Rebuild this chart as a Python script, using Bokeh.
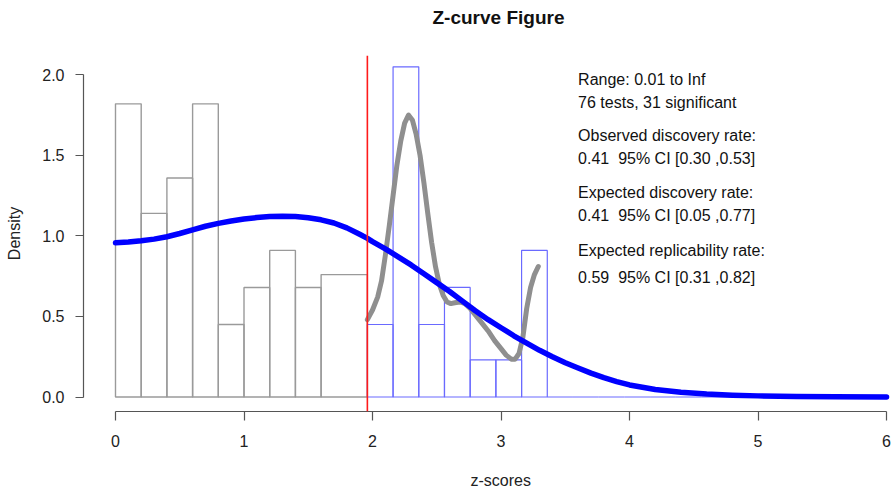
from bokeh.plotting import figure
from bokeh.models import Span, Label, FixedTicker, Range1d, NumeralTickFormatter, Title
from bokeh.embed import file_html
from bokeh.resources import INLINE

FONT = "Liberation Sans"

# Histogram of non-significant z-scores (density scale)
ns_edges = [0.0, 0.2, 0.4, 0.6, 0.8, 1.0, 1.2, 1.4, 1.6, 1.96]
ns_density = [1.82, 1.14, 1.36, 1.82, 0.45, 0.68, 0.91, 0.68, 0.76]

# Histogram of significant z-scores (density scale), empty bins up to the axis end
sig_edges = [1.96, 2.16, 2.36, 2.56, 2.76, 2.96, 3.16, 3.36, 3.56, 3.76, 3.96,
             4.16, 4.36, 4.56, 4.76, 4.96, 5.16, 5.36, 5.56, 5.76, 5.96]
sig_density = [0.45, 2.05, 0.45, 0.68, 0.23, 0.23, 0.91, 0, 0, 0,
               0, 0, 0, 0, 0, 0, 0, 0, 0, 0]

# Fitted z-curve density
fit_z = [0.0, 0.1, 0.2, 0.3, 0.4, 0.5, 0.6, 0.7, 0.8, 0.9, 1.0, 1.1, 1.2, 1.3,
         1.4, 1.5, 1.6, 1.7, 1.8, 1.9, 1.96, 2.0, 2.1, 2.2, 2.3, 2.4, 2.5, 2.6,
         2.7, 2.8, 2.9, 3.0, 3.1, 3.2, 3.3, 3.4, 3.5, 3.6, 3.7, 3.8, 3.9, 4.0,
         4.2, 4.4, 4.6, 4.8, 5.0, 5.3, 5.6, 6.0]
fit_density = [0.957, 0.962, 0.970, 0.980, 0.995, 1.015, 1.038, 1.060, 1.078,
               1.093, 1.105, 1.114, 1.120, 1.122, 1.120, 1.113, 1.100, 1.080,
               1.050, 1.010, 0.985, 0.965, 0.920, 0.870, 0.820, 0.765, 0.710,
               0.655, 0.595, 0.535, 0.480, 0.430, 0.380, 0.335, 0.290, 0.250,
               0.213, 0.180, 0.148, 0.120, 0.096, 0.075, 0.047, 0.029, 0.018,
               0.011, 0.007, 0.003, 0.001, 0.0]

# Kernel density of the significant z-scores
kd_z = [1.96, 2.00, 2.04, 2.07, 2.10, 2.13, 2.16, 2.19, 2.22, 2.25, 2.28, 2.31,
        2.34, 2.37, 2.40, 2.43, 2.46, 2.49, 2.52, 2.55, 2.58, 2.61, 2.64, 2.68,
        2.72, 2.76, 2.80, 2.85, 2.90, 2.95, 3.00, 3.04, 3.08, 3.11, 3.14, 3.17,
        3.20, 3.23, 3.26, 3.29]
kd_density = [0.48, 0.54, 0.62, 0.72, 0.88, 1.06, 1.25, 1.44, 1.59, 1.70, 1.75,
              1.72, 1.63, 1.50, 1.33, 1.14, 0.96, 0.81, 0.70, 0.63, 0.59, 0.58,
              0.585, 0.59, 0.58, 0.55, 0.51, 0.46, 0.41, 0.35, 0.30, 0.26, 0.235,
              0.235, 0.27, 0.37, 0.55, 0.68, 0.76, 0.81]

x_ticks = [0, 1, 2, 3, 4, 5, 6]
y_ticks = [0.0, 0.5, 1.0, 1.5, 2.0]
z_crit = 1.96

NBSP = "\u00a0"
summary_lines = [
    "Range: 0.01 to Inf",
    "76 tests, 31 significant",
    "Observed discovery rate:",
    "0.41" + NBSP + " 95% CI [0.30 ,0.53]",
    "Expected discovery rate:",
    "0.41" + NBSP + " 95% CI [0.05 ,0.77]",
    "Expected replicability rate:",
    "0.59" + NBSP + " 95% CI [0.31 ,0.82]",
]
summary_y = [1.971, 1.830, 1.623, 1.480, 1.271, 1.127, 0.910, 0.744]
summary_x = 3.6

p = figure(width=894, height=491,
           x_range=Range1d(-0.249, 6.062), y_range=Range1d(-0.09, 2.12),
           output_backend="svg", toolbar_location=None,
           min_border_left=83, min_border_right=0,
           min_border_top=55, min_border_bottom=80)
p.outline_line_color = None
p.grid.visible = False
p.background_fill_color = "white"
p.border_fill_color = "white"


def gap(standoff):
    """Blank white panel used to push a title away from the frame."""
    return Title(text=" ", text_font=FONT, text_font_size="10px",
                 text_color="#ffffff", standoff=standoff)


# title, placed from the frame's left edge so it sits over the full plot region
p.add_layout(gap(13), "above")
p.title.text = "Z-curve Figure"
p.title.align = "left"
p.title.offset = 349
p.title.standoff = 4
p.title.text_font = FONT
p.title.text_font_size = "19px"
p.title.text_font_style = "bold"
p.title.text_color = "#111111"

# histograms
p.quad(left=ns_edges[:-1], right=ns_edges[1:], bottom=0, top=ns_density,
       fill_color=None, line_color="#9a9a9a", line_width=1.4)
p.quad(left=sig_edges[:-1], right=sig_edges[1:], bottom=0, top=sig_density,
       fill_color=None, line_color="#6a6aff", line_width=1.2)

# significance threshold
p.add_layout(Span(location=z_crit, dimension="height",
                  line_color="#ff1a1a", line_width=1.6))

# density curves
p.line(kd_z, kd_density, line_color="#8f8f8f", line_width=5,
       line_cap="round", line_join="round")
p.line(fit_z, fit_density, line_color="#0000ff", line_width=5.5,
       line_cap="round", line_join="round")

# axes
for ax, ticks, bounds in ((p.xaxis, x_ticks, (0, 6)), (p.yaxis, y_ticks, (0, 2))):
    ax.ticker = FixedTicker(ticks=ticks)
    ax.bounds = bounds
    ax.axis_line_color = "#555555"
    ax.axis_line_width = 1.2
    ax.major_tick_line_color = "#555555"
    ax.major_tick_line_width = 1.2
    ax.major_tick_in = 0
    ax.minor_tick_line_color = None
    ax.major_label_text_font = FONT
    ax.major_label_text_font_size = "16px"
    ax.major_label_text_color = "#222222"

p.xaxis.major_tick_out = 9
p.xaxis.major_label_standoff = 14
p.yaxis.major_tick_out = 8
p.yaxis.major_label_standoff = 11
p.yaxis.formatter = NumeralTickFormatter(format="0.0")

p.yaxis.axis_label = "Density"
p.yaxis.axis_label_text_font = FONT
p.yaxis.axis_label_text_font_size = "16px"
p.yaxis.axis_label_text_font_style = "normal"
p.yaxis.axis_label_text_color = "#222222"
p.yaxis.axis_label_standoff = 16

# x label as a below-panel title, offset from the frame's left edge
p.add_layout(gap(6), "below")
p.add_layout(Title(text="z-scores", align="left", offset=387, text_font=FONT,
                   text_font_size="16px", text_font_style="normal",
                   text_color="#222222", standoff=2), "below")

# summary statistics
for line, ypos in zip(summary_lines, summary_y):
    p.add_layout(Label(x=summary_x, y=ypos, text=line, text_font=FONT,
                       text_font_size="16px", text_align="left",
                       text_baseline="middle", text_color="#111111"))

open("out.html", "w").write(file_html(p, INLINE))
